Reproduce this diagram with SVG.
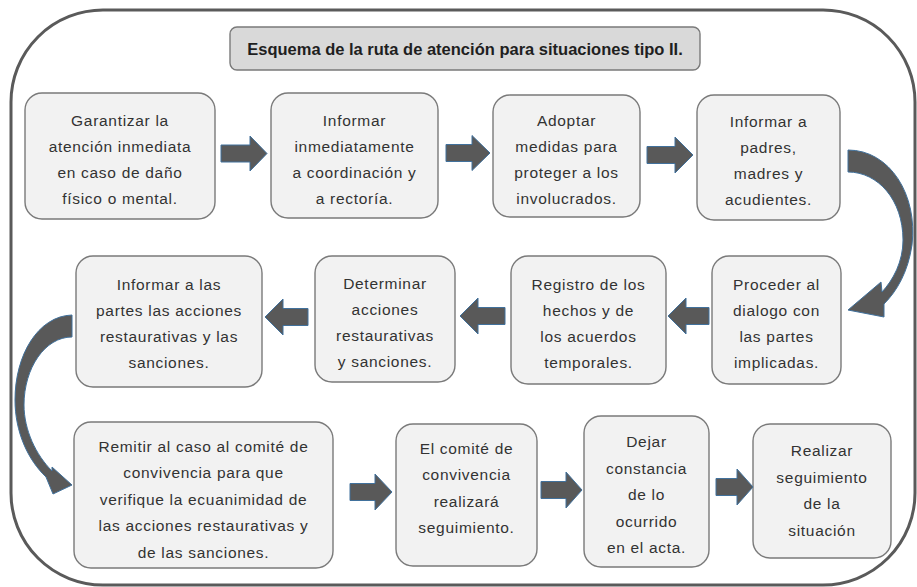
<svg xmlns="http://www.w3.org/2000/svg" width="917" height="587" viewBox="0 0 917 587">
<defs>
<style>
.frame{fill:#ffffff;stroke:#5a5a5a;stroke-width:3}
.box{fill:#f2f2f2;stroke:#7a7a7a;stroke-width:1.4}
.title{fill:#d9d9d9;stroke:#7a7a7a;stroke-width:1.4}
.t{font-family:"Liberation Sans",Arial,sans-serif;font-size:15.5px;fill:#333333;text-anchor:middle;letter-spacing:0.7px}
.tb{font-family:"Liberation Sans",Arial,sans-serif;font-size:16.5px;font-weight:bold;fill:#1f1f1f;text-anchor:middle}
.arr{fill:#595959;stroke:#41719c;stroke-width:1}
</style>
</defs>
<rect class="frame" x="11" y="10" width="904" height="575" rx="92" ry="92"/>
<g id="title">
<rect class="title" x="230" y="27" width="470" height="43" rx="7"/>
<text class="tb" x="465" y="55">Esquema de la ruta de atención para situaciones tipo II.</text>
</g>
<g id="n1"><rect class="box" x="25" y="93" width="190" height="126" rx="17"/>
<text class="t"><tspan x="120" y="126">Garantizar la</tspan><tspan x="120" y="152">atención inmediata</tspan><tspan x="120" y="178">en caso de daño</tspan><tspan x="120" y="204">físico o mental.</tspan></text></g>
<g id="n2"><rect class="box" x="271" y="93" width="167" height="125" rx="17"/>
<text class="t"><tspan x="354.5" y="125.5">Informar</tspan><tspan x="354.5" y="151.5">inmediatamente</tspan><tspan x="354.5" y="177.5">a coordinación y</tspan><tspan x="354.5" y="203.5">a rectoría.</tspan></text></g>
<g id="n3"><rect class="box" x="493" y="95" width="147" height="122" rx="17"/>
<text class="t"><tspan x="566.5" y="126">Adoptar</tspan><tspan x="566.5" y="152">medidas para</tspan><tspan x="566.5" y="178">proteger a los</tspan><tspan x="566.5" y="204">involucrados.</tspan></text></g>
<g id="n4"><rect class="box" x="697" y="95" width="143" height="125" rx="17"/>
<text class="t"><tspan x="768.5" y="127">Informar a</tspan><tspan x="768.5" y="153">padres,</tspan><tspan x="768.5" y="179">madres y</tspan><tspan x="768.5" y="205">acudientes.</tspan></text></g>
<g id="n5"><rect class="box" x="712" y="256" width="129" height="128" rx="17"/>
<text class="t"><tspan x="776.5" y="290">Proceder al</tspan><tspan x="776.5" y="316">dialogo con</tspan><tspan x="776.5" y="342">las partes</tspan><tspan x="776.5" y="368">implicadas.</tspan></text></g>
<g id="n6"><rect class="box" x="511" y="256" width="155" height="128" rx="17"/>
<text class="t"><tspan x="588.5" y="290">Registro de los</tspan><tspan x="588.5" y="316">hechos y de</tspan><tspan x="588.5" y="342">los acuerdos</tspan><tspan x="588.5" y="368">temporales.</tspan></text></g>
<g id="n7"><rect class="box" x="315" y="256" width="140" height="126" rx="17"/>
<text class="t"><tspan x="385" y="289">Determinar</tspan><tspan x="385" y="315">acciones</tspan><tspan x="385" y="341">restaurativas</tspan><tspan x="385" y="367">y sanciones.</tspan></text></g>
<g id="n8"><rect class="box" x="76" y="256" width="186" height="131" rx="17"/>
<text class="t"><tspan x="169" y="290">Informar a las</tspan><tspan x="169" y="316">partes las acciones</tspan><tspan x="169" y="342">restaurativas y las</tspan><tspan x="169" y="368">sanciones.</tspan></text></g>
<g id="n9"><rect class="box" x="74" y="422" width="259" height="146" rx="17"/>
<text class="t"><tspan x="203.5" y="452">Remitir al caso al comité de</tspan><tspan x="203.5" y="478">convivencia para que</tspan><tspan x="203.5" y="504.5">verifique la ecuanimidad de</tspan><tspan x="203.5" y="531">las acciones restaurativas y</tspan><tspan x="203.5" y="557.5">de las sanciones.</tspan></text></g>
<g id="n10"><rect class="box" x="396" y="424" width="141" height="142" rx="17"/>
<text class="t"><tspan x="466.5" y="454">El comité de</tspan><tspan x="466.5" y="480">convivencia</tspan><tspan x="466.5" y="506.5">realizará</tspan><tspan x="466.5" y="533">seguimiento.</tspan></text></g>
<g id="n11"><rect class="box" x="584" y="416" width="125" height="151" rx="17"/>
<text class="t"><tspan x="646.5" y="447">Dejar</tspan><tspan x="646.5" y="473.5">constancia</tspan><tspan x="646.5" y="500">de lo</tspan><tspan x="646.5" y="526.5">ocurrido</tspan><tspan x="646.5" y="553">en el acta.</tspan></text></g>
<g id="n12"><rect class="box" x="753" y="424" width="138" height="134" rx="17"/>
<text class="t"><tspan x="822" y="456">Realizar</tspan><tspan x="822" y="482.5">seguimiento</tspan><tspan x="822" y="509">de la</tspan><tspan x="822" y="535.5">situación</tspan></text></g>
<g id="connectors">
<path class="arr" d="M221,145 L250,145 L250,136 L267,153.5 L250,171 L250,162 L221,162 Z"/>
<path class="arr" d="M446,144.5 L472,144.5 L472,135.5 L490,153 L472,170.5 L472,161.5 L446,161.5 Z"/>
<path class="arr" d="M647,146.5 L675,146.5 L675,137 L693,155 L675,173 L675,163.5 L647,163.5 Z"/>
<path class="arr" d="M709,307.5 L686,307.5 L686,298 L668,316 L686,334 L686,324.5 L709,324.5 Z"/>
<path class="arr" d="M505,307.5 L478,307.5 L478,298 L460,316 L478,334 L478,324.5 L505,324.5 Z"/>
<path class="arr" d="M308,308.5 L283,308.5 L283,299 L265,317 L283,335 L283,325.5 L308,325.5 Z"/>
<path class="arr" d="M350,483.5 L375,483.5 L375,474 L392,492 L375,510 L375,500.5 L350,500.5 Z"/>
<path class="arr" d="M541,481.5 L566,481.5 L566,472 L582,490 L566,508 L566,498.5 L541,498.5 Z"/>
<path class="arr" d="M716,478.5 L737,478.5 L737,469 L753,487 L737,505 L737,495.5 L716,495.5 Z"/>
<path class="arr" d="M848,150 C890,150 918,195 912,245 C908,272 897,291 884,304 L884,317 L848,310 L881,282 L882,292 C893,280 903,262 903,240 C903,200 878,172 848,172 Z"/>
<path class="arr" d="M72,315 C38,316 15,355 15,400 C15,432 28,460 46,477 L53,494 L72,485 L52,467 L52,471 C36,455 24,430 24,405 C24,368 45,337 72,337 Z"/>
</g>
</svg>
